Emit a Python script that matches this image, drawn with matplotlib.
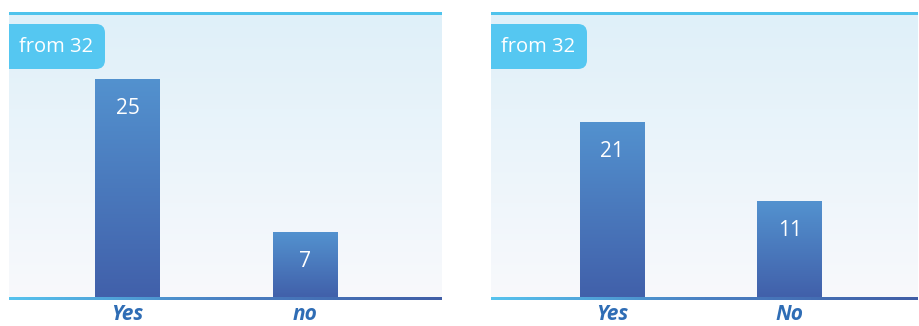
import numpy as np
import matplotlib
matplotlib.use("Agg")
import matplotlib.pyplot as plt
from matplotlib.colors import LinearSegmentedColormap
from matplotlib.patches import FancyBboxPatch, Rectangle

plt.rcParams['font.family'] = ['Open Sans', 'DejaVu Sans']

total = 32
categories_left = ["Yes", "no"]
values_left = [25, 7]
categories_right = ["Yes", "No"]
values_right = [21, 11]

W, H = 920, 326
fig = plt.figure(figsize=(W / 100, H / 100), dpi=100)

bg_cmap = LinearSegmentedColormap.from_list("bg", ["#f8f9fc", "#dff0f9"])
bar_cmap = LinearSegmentedColormap.from_list("bar", ["#4160aa", "#5392cf"])
line_cmap = LinearSegmentedColormap.from_list("ln", ["#56c3ee", "#4a80c2", "#405ea6"])


def panel(x0, x1, cats, vals, xlim, ylim):
    top, bottom = 15, 297
    ax = fig.add_axes([x0 / W, (H - bottom) / H, (x1 - x0) / W, (bottom - top) / H])
    ax.set_xlim(*xlim)
    ax.set_ylim(*ylim)
    for s in ax.spines.values():
        s.set_visible(False)
    ax.set_yticks([])
    ax.tick_params(axis='x', length=0, pad=5)
    ax.patch.set_alpha(0)
    # background gradient
    grad = np.linspace(0, 1, 256).reshape(-1, 1)
    ax.imshow(grad, cmap=bg_cmap, origin='lower', aspect='auto',
              extent=(0, 1, 0, 1), transform=ax.transAxes, zorder=0)
    x = np.arange(len(cats))
    bars = ax.bar(x, vals, width=0.366, color="none", edgecolor="none", zorder=2)
    for b, v in zip(bars, vals):
        b.set_y(ylim[0])
        b.set_height(v - ylim[0])
        bx, bw = b.get_x(), b.get_width()
        im = ax.imshow(grad, cmap=bar_cmap, origin='lower', aspect='auto',
                       extent=(bx, bx + bw, ylim[0], v), zorder=3)
        im.set_clip_path(b)
        ax.annotate(str(v), (bx + bw / 2, v), xytext=(0, -35 * 0.72),
                    textcoords='offset points', ha='center', va='baseline',
                    color='white', fontsize=15, zorder=4)
    ax.set_xlim(*xlim)
    ax.set_ylim(*ylim)
    ax.set_xticks(x)
    ax.set_xticklabels(cats, fontsize=15, fontweight='bold', fontstyle='italic',
                       color='#2f6db5')
    # top border
    fig.patches.append(Rectangle((x0 / W, (H - 15) / H), (x1 - x0) / W, 3 / H,
                                 transform=fig.transFigure, facecolor="#4fc3ec",
                                 edgecolor="none"))
    # bottom gradient line
    lg = np.linspace(0, 1, 256).reshape(1, -1)
    ax.imshow(lg, cmap=line_cmap, aspect='auto', extent=(0, 1, -3 / 282, 0),
              transform=ax.transAxes, clip_on=False, zorder=5)
    # badge
    badge = FancyBboxPatch(((x0 - 20) / 100, (H - 69) / 100), (105 - 9 + 20) / 100, 45 / 100,
                           boxstyle="round,pad=0,rounding_size=0.09",
                           transform=fig.dpi_scale_trans, facecolor="#55c7f1",
                           edgecolor="none", zorder=6)
    ax.add_patch(badge)
    badge.set_clip_box(ax.bbox)
    fig.text((x0 + 10) / W, (H - 46.5) / H, f"from {total}", color='white',
             fontsize=14.5, ha='left', va='center', zorder=7)
    return ax


panel(9, 442, categories_left, values_left, (-0.668, 1.772), (-0.6, 32.5))
panel(491, 918, categories_right, values_right, (-0.684, 1.724), (-1.0, 34.4))

fig.savefig("out.png", dpi=100)
